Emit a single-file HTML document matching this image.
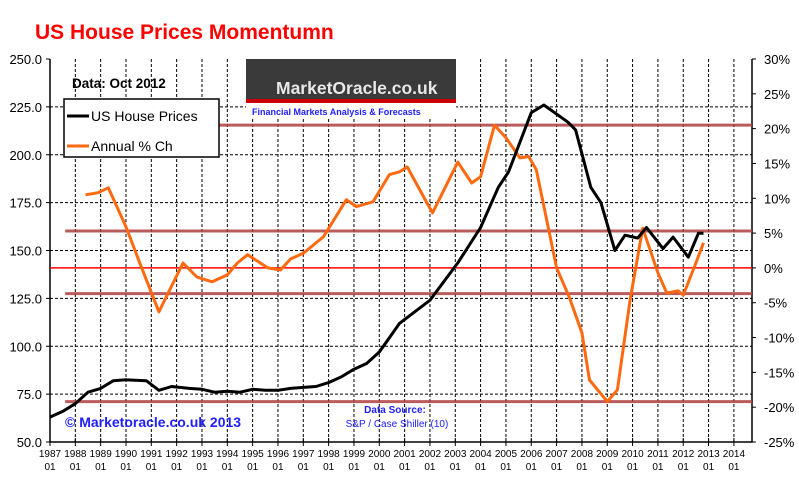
<!DOCTYPE html>
<html><head><meta charset="utf-8"><style>
body{margin:0;background:#fff;}
svg text{font-family:"Liberation Sans",sans-serif;}
</style></head><body>
<svg id="c" width="799" height="479" xmlns="http://www.w3.org/2000/svg">
<text x="35" y="39" font-size="21" font-weight="bold" fill="#ff0000">US House Prices Momentumn</text>
<g id="grid"></g>
<g id="axes"></g>
<g id="series"></g>
<g>
<rect x="246" y="59" width="210" height="42" fill="#3a3a3a"/>
<rect x="246" y="99" width="210" height="4" fill="#cc0000"/>
<text x="276" y="94" font-size="17.5" font-weight="bold" fill="#e8e8e8">MarketOracle.co.uk</text>
<rect x="246" y="104" width="210" height="14" fill="#fff"/>
<text x="252" y="115" font-size="9" font-weight="bold" fill="#2020ff">Financial Markets Analysis &amp; Forecasts</text>
</g>
<text x="72" y="88" font-size="13.5" font-weight="bold" fill="#000">Data:  Oct 2012</text>
<g>
<rect x="64" y="99" width="155" height="58" fill="#fff" stroke="#000" stroke-width="1.5"/>
<line x1="67" y1="116" x2="89" y2="116" stroke="#000" stroke-width="3"/>
<text x="91" y="121" font-size="14">US House Prices</text>
<line x1="67" y1="146" x2="89" y2="146" stroke="#ff6a10" stroke-width="3"/>
<text x="91" y="151" font-size="14">Annual % Ch</text>
</g>
<text x="65" y="427" font-size="14" font-weight="bold" fill="#2020ff">© Marketoracle.co.uk 2013</text>
<text x="395" y="413" font-size="10" font-weight="bold" fill="#2020ff" text-anchor="middle">Data Source:</text>
<text x="397" y="427" font-size="10" fill="#2020ff" text-anchor="middle">S&amp;P / Case Shiller (10)</text>
</svg>
<script>
const priceT=[1987.0,1987.5,1988,1988.5,1989,1989.5,1990,1990.8,1991.3,1991.8,1992.5,1993,1993.5,1994,1994.5,1995,1995.5,1996,1996.5,1997,1997.5,1998,1998.5,1999,1999.5,2000,2000.8,2002.0,2003.1,2004.0,2004.7,2005.1,2006.0,2006.5,2007.45,2007.75,2008.35,2008.75,2009.3,2009.7,2010.2,2010.55,2011.2,2011.6,2012.2,2012.6,2012.8];
const priceV=[63,66,70,76,78,82,82.5,82,77,79,78,77.5,76,76.5,76,77.5,77,77,78,78.5,79,81,84,88,91,97,112,124,143.5,162,183,191,222,226,217,213,183,175,150,158,156.5,162,151,157,146.5,159,159];
const pctT=[1988.4,1988.9,1989.3,1990.0,1990.5,1991.3,1992.25,1992.8,1993.4,1994.0,1994.4,1994.8,1995.6,1996.1,1996.5,1997.0,1997.8,1998.7,1999.1,1999.75,2000.4,2000.8,2001.1,2001.6,2002.1,2003.1,2003.65,2004.0,2004.55,2005.0,2005.55,2005.9,2006.2,2007.0,2007.5,2008.0,2008.3,2009.0,2009.4,2009.9,2010.4,2011.0,2011.35,2011.8,2012.0,2012.5,2012.8];
const pctV=[10.5,10.8,11.5,5.9,1.1,-6.3,0.7,-1.3,-2,-1,0.7,1.9,0,-0.3,1.3,2.1,4.5,9.8,8.8,9.5,13.4,13.8,14.5,11.2,7.9,15.2,12.2,13.1,20.5,18.7,15.8,16,14.1,0,-4.2,-9.3,-16.1,-19.2,-17.5,-4.6,5.7,-0.7,-3.6,-3.3,-3.9,0.7,3.6];
const leftTicks=[50,75,100,125,150,175,200,225,250];
const rightTicks=[-25,-20,-15,-10,-5,0,5,10,15,20,25,30];
const years=[1987,1988,1989,1990,1991,1992,1993,1994,1995,1996,1997,1998,1999,2000,2001,2002,2003,2004,2005,2006,2007,2008,2009,2010,2011,2012,2013,2014];
const levels=[20.5,5.3,-3.7,-19.2];
const L=50,R=752,T=59,B=442;
const xs=t=>L+(t-1987)*25.33;
const yL=v=>B-(v-50)*(B-T)/200;
const yR=v=>B-(v+25)*(B-T)/55;
const NS="http://www.w3.org/2000/svg";
function mk(p,tag,at){const e=document.createElementNS(NS,tag);for(const k in at)e.setAttribute(k,at[k]);p.appendChild(e);return e;}
const g=document.getElementById('grid'),a=document.getElementById('axes'),s=document.getElementById('series');
leftTicks.forEach(v=>{if(v>50&&v<250){const l=mk(g,'line',{x1:L,x2:R,y1:yL(v),y2:yL(v),stroke:'#000','stroke-dasharray':'3,2','stroke-width':1});}
const t=mk(a,'text',{x:42,y:yL(v)+5,'font-size':13,'text-anchor':'end'});t.textContent=v.toFixed(1);});
rightTicks.forEach(v=>{const t=mk(a,'text',{x:764,y:yR(v)+5,'font-size':13});t.textContent=v+'%';});
years.forEach(y=>{const x=xs(y);if(y>1987){const l=mk(g,'line',{x1:x,x2:x,y1:T,y2:B,stroke:'#000','stroke-dasharray':'3,2','stroke-width':1});}
mk(a,'line',{x1:x,x2:x,y1:B-4,y2:B+4,stroke:'#000'});
const t=mk(a,'text',{x:x,y:457,'font-size':10,'text-anchor':'middle'});t.textContent=y;
const t2=mk(a,'text',{x:x,y:470,'font-size':10,'text-anchor':'middle'});t2.textContent='01';});
const ax=mk(a,'path',{d:`M${L},${T}V${B}H${R}V${T}`,fill:'none',stroke:'#000','stroke-width':1.5});

leftTicks.forEach(v=>mk(a,'line',{x1:L-4,x2:L,y1:yL(v),y2:yL(v),stroke:'#000'}));
rightTicks.forEach(v=>mk(a,'line',{x1:R,x2:R+4,y1:yR(v),y2:yR(v),stroke:'#000'}));
levels.forEach(v=>{const l=mk(s,'line',{x1:xs(1987.6),x2:R,y1:yR(v),y2:yR(v),stroke:'#b04040','stroke-width':3,opacity:0.85});});
const z=mk(s,'line',{x1:L,x2:R,y1:yR(0),y2:yR(0),stroke:'#ff0000','stroke-width':1.5});

function path(T_,V_,fy){return V_.map((v,i)=>(i?'L':'M')+xs(T_[i]).toFixed(1)+','+fy(v).toFixed(1)).join('');}
const op=mk(s,'path',{d:path(pctT,pctV,yR),fill:'none',stroke:'#ff6a10','stroke-width':3,'stroke-linejoin':'round'});

const bp=mk(s,'path',{d:path(priceT,priceV,yL),fill:'none',stroke:'#000','stroke-width':3,'stroke-linejoin':'round'});

</script>
</body></html>
